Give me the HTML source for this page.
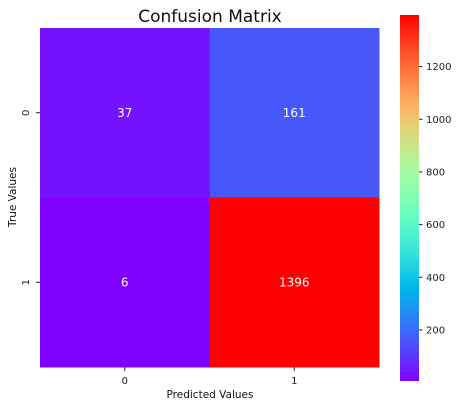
<!DOCTYPE html>
<html><head><meta charset="utf-8"><style>body{margin:0;background:#fff}svg{display:block;font-family:"DejaVu Sans","Liberation Sans",sans-serif}</style></head>
<body>
<svg id="c" width="462" height="407"></svg>
<script>
const rowLabels=["0","1"];
const colLabels=["0","1"];
const values=[[37,161],[6,1396]];
const cbTicks=[200,400,600,800,1000,1200];
const vmin=6, vmax=1396;
const NS="http://www.w3.org/2000/svg";
const svg=document.getElementById('c');
function mk(t,a,p){const e=document.createElementNS(NS,t);for(const k in a)e.setAttribute(k,a[k]);(p||svg).appendChild(e);return e;}
function rainbow(x){const c=v=>Math.max(0,Math.min(1,v));const r=c(Math.abs(2*x-0.5)),g=c(Math.sin(Math.PI*x)),b=c(Math.cos(Math.PI*x/2));return `rgb(${Math.round(r*255)},${Math.round(g*255)},${Math.round(b*255)})`;}
const L=40,T=28,W=339,H=339;
const cw=W/colLabels.length, ch=H/rowLabels.length;
const xc=j=>L+cw*(j+0.5), yc=i=>T+ch*(i+0.5);
values.forEach((row,i)=>row.forEach((v,j)=>{
 const x=(v-vmin)/(vmax-vmin);
 const r=mk('rect',{x:L+cw*j,y:T+ch*i,width:cw+0.5,height:ch+0.5,fill:rainbow(x)});
 
 
 const t=mk('text',{x:xc(j),y:yc(i)+4,'text-anchor':'middle','font-size':12,fill:'#fff'});
 t.textContent=v;
 
 
}));
colLabels.forEach((l,j)=>{mk('line',{x1:xc(j),x2:xc(j),y1:T+H,y2:T+H+4,stroke:'#222'});
 const t=mk('text',{x:xc(j),y:T+H+17,'text-anchor':'middle','font-size':10,fill:'#222'});t.textContent=l;
 });
rowLabels.forEach((l,i)=>{mk('line',{x1:L-4,x2:L,y1:yc(i),y2:yc(i),stroke:'#222'});
 const t=mk('text',{x:0,y:0,transform:`translate(29,${yc(i)}) rotate(-90)`,'text-anchor':'middle','font-size':10,fill:'#222'});t.textContent=l;
 });
// colorbar
const CX=400,CW=19,CT=15,CB=381;
const defs=mk('defs',{});const gr=mk('linearGradient',{id:'g',x1:0,y1:1,x2:0,y2:0},defs);
for(let k=0;k<=20;k++)mk('stop',{offset:k/20,'stop-color':rainbow(k/20)},gr);
const cb=mk('rect',{x:CX,y:CT,width:CW,height:CB-CT,fill:'url(#g)'});

const cy=v=>CB-(v-vmin)/(vmax-vmin)*(CB-CT);
cbTicks.forEach(v=>{mk('line',{x1:CX+CW,x2:CX+CW+3.5,y1:cy(v),y2:cy(v),stroke:'#222'});
 const t=mk('text',{x:CX+CW+7,y:cy(v)+3.5,'font-size':10,fill:'#222'});t.textContent=v;
 });
</script>
<svg style="position:absolute;left:0;top:0" width="462" height="407">
<text x="210" y="22" text-anchor="middle" font-size="17" fill="#111" font-family="DejaVu Sans, sans-serif">Confusion Matrix</text>
<text x="210" y="398" text-anchor="middle" font-size="10.5" fill="#111" font-family="DejaVu Sans, sans-serif">Predicted Values</text>
<text transform="translate(16,197) rotate(-90)" text-anchor="middle" font-size="10.5" fill="#111" font-family="DejaVu Sans, sans-serif">True Values</text>
</svg>
</body></html>
